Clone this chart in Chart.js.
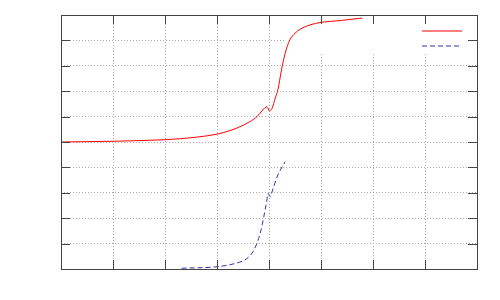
<!DOCTYPE html>
<html><head><meta charset="utf-8">
<script src="https://cdn.jsdelivr.net/npm/chart.js@4.4.1/dist/chart.umd.min.js"></script>
<style>html,body{margin:0;padding:0;background:#fff}#wrap{width:500px;height:300px}</style>
</head><body><div id="wrap"><canvas id="c"></canvas></div>
<script>
const redX = [0, 1, 2, 2.3, 2.6, 3, 3.25, 3.44, 3.63, 3.77, 3.88, 3.96, 4.01, 4.06, 4.12, 4.17, 4.24, 4.31, 4.4, 4.5, 4.6, 4.79, 5.0, 5.37, 5.79];
const redY = [5.0, 5.03, 5.09, 5.13, 5.19, 5.31, 5.45, 5.6, 5.8, 6.0, 6.26, 6.39, 6.22, 6.33, 6.73, 7.05, 7.83, 8.49, 9.02, 9.28, 9.44, 9.61, 9.71, 9.78, 9.88];
const blueX = [2.32, 3, 3.35, 3.58, 3.71, 3.83, 3.9, 3.96, 3.98, 4.02, 4.08, 4.17, 4.31];
const blueY = [0.03, 0.09, 0.22, 0.42, 0.75, 1.4, 2.06, 2.72, 2.98, 2.85, 3.18, 3.7, 4.22];
const xTicks = [0, 1, 2, 3, 4, 5, 6, 7, 8];
const yTicks = [0, 1, 2, 3, 4, 5, 6, 7, 8, 9, 10];
const keyBox = {x0: 4.33, x1: 7.85, y0: 8.5, y1: 10};
const seriesColors = ['#ff0000', '#3232aa'];
const seriesDash = [[], [5, 3]];

const toPts = (xs, ys) => xs.map((x, i) => ({x, y: ys[i]}));

const framePlugin = {
  id: 'frame',
  beforeDatasetsDraw(chart) {
    const {ctx, scales: {x, y}} = chart;
    ctx.save();
    ctx.fillStyle = '#fff';
    const l = x.getPixelForValue(keyBox.x0), r = x.getPixelForValue(keyBox.x1);
    const t = y.getPixelForValue(keyBox.y1), b = y.getPixelForValue(keyBox.y0);
    ctx.fillRect(l, t + 1, r - l, b - t);
    ctx.restore();
  },
  afterDatasetsDraw(chart) {
    const {ctx, chartArea: a, scales: {x, y}} = chart;
    ctx.save();
    ctx.strokeStyle = '#444';
    ctx.lineWidth = 1;
    ctx.setLineDash([]);
    const tl = 9;
    ctx.beginPath();
    xTicks.forEach(v => {
      const p = Math.round(x.getPixelForValue(v)) + 0.5;
      ctx.moveTo(p, a.bottom); ctx.lineTo(p, a.bottom - tl);
      ctx.moveTo(p, a.top); ctx.lineTo(p, a.top + tl);
    });
    yTicks.forEach(v => {
      const p = Math.round(y.getPixelForValue(v)) + 0.5;
      ctx.moveTo(a.left, p); ctx.lineTo(a.left + tl, p);
      ctx.moveTo(a.right, p); ctx.lineTo(a.right - tl, p);
    });
    ctx.stroke();
    ctx.strokeRect(Math.round(a.left) + 0.5, Math.round(a.top) + 0.5, Math.round(a.right - a.left), Math.round(a.bottom - a.top));
    ctx.restore();
    // key samples
    seriesColors.forEach((col, i) => {
      ctx.save();
      const yy = Math.round(a.top + 16 + i * 15);
      ctx.strokeStyle = col;
      ctx.lineWidth = 1.2;
      ctx.setLineDash(seriesDash[i]);
      ctx.beginPath();
      ctx.moveTo(a.right - 55, yy);
      ctx.lineTo(a.right - 15, yy);
      ctx.stroke();
      ctx.restore();
    });
  }
};

new Chart(document.getElementById('c'), {
  type: 'line',
  data: {
    datasets: [
      {data: toPts(redX, redY), borderColor: seriesColors[0], borderWidth: 1, borderDash: seriesDash[0], pointRadius: 0, fill: false, cubicInterpolationMode: 'monotone'},
      {data: toPts(blueX, blueY), borderColor: seriesColors[1], borderWidth: 1, borderDash: seriesDash[1], pointRadius: 0, fill: false, cubicInterpolationMode: 'monotone'}
    ]
  },
  options: {
    responsive: true, maintainAspectRatio: false, animation: false,
    layout: {padding: {left: 61, top: 15, right: 23, bottom: 31}},
    plugins: {legend: {display: false}, tooltip: {enabled: false}},
    scales: {
      x: {type: 'linear', min: 0, max: 8,
          ticks: {display: false, stepSize: 1},
          grid: {color: 'rgb(170,170,170)', drawTicks: false, tickLength: 0},
          border: {display: false, dash: [1, 2]}},
      y: {type: 'linear', min: 0, max: 10,
          ticks: {display: false, stepSize: 1},
          grid: {color: 'rgb(170,170,170)', drawTicks: false, tickLength: 0},
          border: {display: false, dash: [1, 2]}}
    }
  },
  plugins: [framePlugin]
});
</script></body></html>
